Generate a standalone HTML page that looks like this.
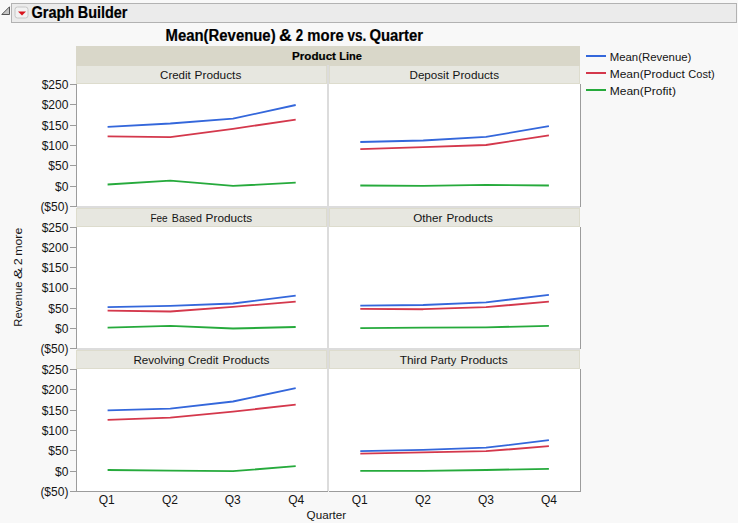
<!DOCTYPE html>
<html><head><meta charset="utf-8"><title>Graph Builder</title>
<style>
html,body{margin:0;padding:0;background:#f8f8f8;}
body{width:738px;height:523px;overflow:hidden;font-family:"Liberation Sans",sans-serif;}
svg{display:block;position:absolute;left:0;top:0;}
text{font-family:"Liberation Sans",sans-serif;fill:#141414;}
.r{shape-rendering:crispEdges;}
.t{font-size:12px;}
.k{letter-spacing:0px;}
.b{font-weight:bold;fill:#000;stroke:#000;stroke-width:0.2px;}
.ln{fill:none;stroke-width:1.85;stroke-linejoin:round;stroke-linecap:butt;}
</style></head><body>
<svg width="738" height="523" viewBox="0 0 738 523">
<rect class="r" x="0" y="0" width="738" height="523" fill="#f8f8f8"/>
<rect class="r" x="11.5" y="3.5" width="725" height="19" fill="#ebebeb" stroke="#b2b2b2" stroke-width="1"/>
<path d="M1.8 14.5 L9.5 14.5 L9.5 6.8 Z" fill="#c4c4c4" stroke="#555555" stroke-width="1" stroke-linejoin="miter"/>
<rect x="15" y="7" width="13" height="11" rx="2.5" ry="2.5" fill="#f1f1f1" stroke="#c6c6c6" stroke-width="1"/>
<path d="M18 11.4 L26 11.4 L22 15.6 Z" fill="#d8131c"/>
<rect class="r" x="76" y="46" width="504" height="20" fill="#d9d7c9"/>
<rect class="r" x="76" y="65" width="251" height="19" fill="#dddccd"/>
<rect class="r" x="77" y="66" width="249" height="17" fill="#e7e7e0"/>
<rect class="r" x="329" y="65" width="251" height="19" fill="#dddccd"/>
<rect class="r" x="330" y="66" width="249" height="17" fill="#e7e7e0"/>
<rect class="r" x="76" y="65" width="504" height="1" fill="#d9d7c9"/>
<rect class="r" x="76" y="208" width="251" height="19" fill="#dddccd"/>
<rect class="r" x="77" y="209" width="249" height="17" fill="#e7e7e0"/>
<rect class="r" x="329" y="208" width="251" height="19" fill="#dddccd"/>
<rect class="r" x="330" y="209" width="249" height="17" fill="#e7e7e0"/>
<rect class="r" x="76" y="350" width="251" height="19" fill="#dddccd"/>
<rect class="r" x="77" y="351" width="249" height="17" fill="#e7e7e0"/>
<rect class="r" x="329" y="350" width="251" height="19" fill="#dddccd"/>
<rect class="r" x="330" y="351" width="249" height="17" fill="#e7e7e0"/>
<rect class="r" x="77" y="84" width="503" height="122" fill="#ffffff"/>
<rect class="r" x="77" y="227" width="503" height="121" fill="#ffffff"/>
<rect class="r" x="77" y="369" width="503" height="122" fill="#ffffff"/>
<rect class="r" x="327" y="65" width="2" height="426" fill="#dcdcdc"/>
<rect class="r" x="77" y="206" width="503" height="2" fill="#dcdcdc"/>
<rect class="r" x="77" y="348" width="503" height="2" fill="#dcdcdc"/>
<rect class="r" x="76" y="84" width="1" height="123" fill="#9c9c9c"/>
<rect class="r" x="76" y="227" width="1" height="122" fill="#9c9c9c"/>
<rect class="r" x="76" y="369" width="1" height="123" fill="#9c9c9c"/>
<rect class="r" x="580" y="84" width="1" height="123" fill="#9c9c9c"/>
<rect class="r" x="580" y="227" width="1" height="122" fill="#9c9c9c"/>
<rect class="r" x="580" y="369" width="1" height="123" fill="#9c9c9c"/>
<rect class="r" x="76" y="491" width="505" height="1" fill="#9c9c9c"/>
<rect class="r" x="328" y="491" width="1" height="1" fill="#f2f2f2"/>
<rect class="r" x="70" y="84" width="6" height="1" fill="#9c9c9c"/>
<text class="t k" x="68.4" y="88.9" text-anchor="end">$250</text>
<rect class="r" x="70" y="104" width="6" height="1" fill="#9c9c9c"/>
<text class="t k" x="68.4" y="109.2" text-anchor="end">$200</text>
<rect class="r" x="70" y="125" width="6" height="1" fill="#9c9c9c"/>
<text class="t k" x="68.4" y="129.6" text-anchor="end">$150</text>
<rect class="r" x="70" y="145" width="6" height="1" fill="#9c9c9c"/>
<text class="t k" x="68.4" y="149.9" text-anchor="end">$100</text>
<rect class="r" x="70" y="165" width="6" height="1" fill="#9c9c9c"/>
<text class="t k" x="68.4" y="170.2" text-anchor="end">$50</text>
<rect class="r" x="70" y="186" width="6" height="1" fill="#9c9c9c"/>
<text class="t k" x="68.4" y="190.6" text-anchor="end">$0</text>
<rect class="r" x="70" y="206" width="6" height="1" fill="#9c9c9c"/>
<text class="t k" x="68.4" y="210.9" text-anchor="end">($50)</text>
<rect class="r" x="70" y="227" width="6" height="1" fill="#9c9c9c"/>
<text class="t k" x="68.4" y="231.9" text-anchor="end">$250</text>
<rect class="r" x="70" y="247" width="6" height="1" fill="#9c9c9c"/>
<text class="t k" x="68.4" y="252.1" text-anchor="end">$200</text>
<rect class="r" x="70" y="267" width="6" height="1" fill="#9c9c9c"/>
<text class="t k" x="68.4" y="272.2" text-anchor="end">$150</text>
<rect class="r" x="70" y="288" width="6" height="1" fill="#9c9c9c"/>
<text class="t k" x="68.4" y="292.4" text-anchor="end">$100</text>
<rect class="r" x="70" y="308" width="6" height="1" fill="#9c9c9c"/>
<text class="t k" x="68.4" y="312.6" text-anchor="end">$50</text>
<rect class="r" x="70" y="328" width="6" height="1" fill="#9c9c9c"/>
<text class="t k" x="68.4" y="332.7" text-anchor="end">$0</text>
<rect class="r" x="70" y="348" width="6" height="1" fill="#9c9c9c"/>
<text class="t k" x="68.4" y="352.9" text-anchor="end">($50)</text>
<rect class="r" x="70" y="369" width="6" height="1" fill="#9c9c9c"/>
<text class="t k" x="68.4" y="373.9" text-anchor="end">$250</text>
<rect class="r" x="70" y="389" width="6" height="1" fill="#9c9c9c"/>
<text class="t k" x="68.4" y="394.2" text-anchor="end">$200</text>
<rect class="r" x="70" y="410" width="6" height="1" fill="#9c9c9c"/>
<text class="t k" x="68.4" y="414.6" text-anchor="end">$150</text>
<rect class="r" x="70" y="430" width="6" height="1" fill="#9c9c9c"/>
<text class="t k" x="68.4" y="434.9" text-anchor="end">$100</text>
<rect class="r" x="70" y="450" width="6" height="1" fill="#9c9c9c"/>
<text class="t k" x="68.4" y="455.2" text-anchor="end">$50</text>
<rect class="r" x="70" y="471" width="6" height="1" fill="#9c9c9c"/>
<text class="t k" x="68.4" y="475.6" text-anchor="end">$0</text>
<rect class="r" x="70" y="491" width="6" height="1" fill="#9c9c9c"/>
<text class="t k" x="68.4" y="495.9" text-anchor="end">($50)</text>
<polyline class="ln" stroke="#26aa3c" points="107.6,184.5 170.3,180.7 233.0,185.9 295.7,182.7"/>
<polyline class="ln" stroke="#d4384c" points="107.6,136.4 170.3,137.2 233.0,128.8 295.7,119.6"/>
<polyline class="ln" stroke="#3467db" points="107.6,126.9 170.3,123.5 233.0,118.7 295.7,105.0"/>
<polyline class="ln" stroke="#26aa3c" points="360.3,185.5 423.2,185.8 486.0,184.9 548.9,185.5"/>
<polyline class="ln" stroke="#d4384c" points="360.3,149.2 423.2,147.1 486.0,145.0 548.9,135.4"/>
<polyline class="ln" stroke="#3467db" points="360.3,142.0 423.2,140.5 486.0,136.9 548.9,126.2"/>
<polyline class="ln" stroke="#26aa3c" points="107.6,327.6 170.3,325.9 233.0,328.5 295.7,327.0"/>
<polyline class="ln" stroke="#d4384c" points="107.6,310.7 170.3,311.5 233.0,306.8 295.7,301.7"/>
<polyline class="ln" stroke="#3467db" points="107.6,307.1 170.3,305.9 233.0,303.5 295.7,295.7"/>
<polyline class="ln" stroke="#26aa3c" points="360.3,328.2 423.2,327.6 486.0,327.3 548.9,325.9"/>
<polyline class="ln" stroke="#d4384c" points="360.3,308.9 423.2,309.2 486.0,307.1 548.9,301.7"/>
<polyline class="ln" stroke="#3467db" points="360.3,305.6 423.2,305.0 486.0,302.3 548.9,294.9"/>
<polyline class="ln" stroke="#26aa3c" points="107.6,470.0 170.3,470.6 233.0,471.2 295.7,466.2"/>
<polyline class="ln" stroke="#d4384c" points="107.6,419.9 170.3,417.6 233.0,411.6 295.7,404.7"/>
<polyline class="ln" stroke="#3467db" points="107.6,410.4 170.3,408.6 233.0,401.5 295.7,388.1"/>
<polyline class="ln" stroke="#26aa3c" points="360.3,470.9 423.2,470.9 486.0,470.0 548.9,468.8"/>
<polyline class="ln" stroke="#d4384c" points="360.3,453.6 423.2,452.4 486.0,451.2 548.9,446.2"/>
<polyline class="ln" stroke="#3467db" points="360.3,451.2 423.2,449.8 486.0,447.7 548.9,440.2"/>
<text class="t" x="106.8" y="504" text-anchor="middle">Q1</text>
<text class="t" x="170.0" y="504" text-anchor="middle">Q2</text>
<text class="t" x="232.8" y="504" text-anchor="middle">Q3</text>
<text class="t" x="296.2" y="504" text-anchor="middle">Q4</text>
<text class="t" x="359.8" y="504" text-anchor="middle">Q1</text>
<text class="t" x="422.9" y="504" text-anchor="middle">Q2</text>
<text class="t" x="485.9" y="504" text-anchor="middle">Q3</text>
<text class="t" x="548.9" y="504" text-anchor="middle">Q4</text>
<g transform="translate(22.3,326.1) rotate(-90)">
<text x="-0.56" y="0.00" font-size="11.8" textLength="45.32" lengthAdjust="spacingAndGlyphs">Revenue</text>
<text x="46.94" y="0.00" font-size="11.8" textLength="11.84" lengthAdjust="spacingAndGlyphs">&amp;</text>
<text x="60.84" y="0.00" font-size="11.8" textLength="6.96" lengthAdjust="spacingAndGlyphs">2</text>
<text x="70.26" y="0.00" font-size="11.8" textLength="28.18" lengthAdjust="spacingAndGlyphs">more</text>
</g>
<text class="b" x="31.42" y="17.60" font-size="15.6" textLength="42.84" lengthAdjust="spacingAndGlyphs">Graph</text>
<text class="b" x="77.72" y="17.60" font-size="15.6" textLength="49.78" lengthAdjust="spacingAndGlyphs">Builder</text>
<text class="b" x="165.56" y="41.00" font-size="15.8" textLength="110.05" lengthAdjust="spacingAndGlyphs">Mean(Revenue)</text>
<text class="b" x="279.06" y="41.00" font-size="15.8" textLength="12.75" lengthAdjust="spacingAndGlyphs">&amp;</text>
<text class="b" x="295.78" y="41.00" font-size="15.8" textLength="7.38" lengthAdjust="spacingAndGlyphs">2</text>
<text class="b" x="307.36" y="41.00" font-size="15.8" textLength="36.32" lengthAdjust="spacingAndGlyphs">more</text>
<text class="b" x="347.49" y="41.00" font-size="15.8" textLength="18.85" lengthAdjust="spacingAndGlyphs">vs.</text>
<text class="b" x="369.41" y="41.00" font-size="15.8" textLength="53.68" lengthAdjust="spacingAndGlyphs">Quarter</text>
<text class="b" x="292.05" y="60.00" font-size="11.6" textLength="43.94" lengthAdjust="spacingAndGlyphs">Product</text>
<text class="b" x="339.29" y="60.00" font-size="11.6" textLength="22.55" lengthAdjust="spacingAndGlyphs">Line</text>
<text x="160.09" y="79.00" font-size="11.8" textLength="30.70" lengthAdjust="spacingAndGlyphs">Credit</text>
<text x="194.60" y="79.00" font-size="11.8" textLength="46.74" lengthAdjust="spacingAndGlyphs">Products</text>
<text x="409.51" y="79.00" font-size="11.8" textLength="39.41" lengthAdjust="spacingAndGlyphs">Deposit</text>
<text x="452.60" y="79.00" font-size="11.8" textLength="46.43" lengthAdjust="spacingAndGlyphs">Products</text>
<text x="150.45" y="222.00" font-size="11.8" textLength="17.23" lengthAdjust="spacingAndGlyphs">Fee</text>
<text x="171.80" y="222.00" font-size="11.8" textLength="30.15" lengthAdjust="spacingAndGlyphs">Based</text>
<text x="205.60" y="222.00" font-size="11.8" textLength="46.54" lengthAdjust="spacingAndGlyphs">Products</text>
<text x="413.21" y="222.00" font-size="11.8" textLength="29.16" lengthAdjust="spacingAndGlyphs">Other</text>
<text x="446.50" y="222.00" font-size="11.8" textLength="46.43" lengthAdjust="spacingAndGlyphs">Products</text>
<text x="133.41" y="364.00" font-size="11.8" textLength="51.09" lengthAdjust="spacingAndGlyphs">Revolving</text>
<text x="188.00" y="364.00" font-size="11.8" textLength="30.39" lengthAdjust="spacingAndGlyphs">Credit</text>
<text x="222.49" y="364.00" font-size="11.8" textLength="46.95" lengthAdjust="spacingAndGlyphs">Products</text>
<text x="399.65" y="364.00" font-size="11.8" textLength="27.23" lengthAdjust="spacingAndGlyphs">Third</text>
<text x="430.47" y="364.00" font-size="11.8" textLength="25.68" lengthAdjust="spacingAndGlyphs">Party</text>
<text x="460.49" y="364.00" font-size="11.8" textLength="47.16" lengthAdjust="spacingAndGlyphs">Products</text>
<text x="306.61" y="519.00" font-size="11.8" textLength="39.54" lengthAdjust="spacingAndGlyphs">Quarter</text>
<text x="609.73" y="60.60" font-size="11.8" textLength="81.66" lengthAdjust="spacingAndGlyphs">Mean(Revenue)</text>
<text x="609.68" y="77.60" font-size="11.8" textLength="75.21" lengthAdjust="spacingAndGlyphs">Mean(Product</text>
<text x="688.32" y="77.60" font-size="11.8" textLength="26.33" lengthAdjust="spacingAndGlyphs">Cost)</text>
<text x="609.68" y="94.60" font-size="11.8" textLength="66.22" lengthAdjust="spacingAndGlyphs">Mean(Profit)</text>
<rect class="r" x="586" y="55" width="20" height="2" fill="#3467db"/>
<rect class="r" x="586" y="72" width="20" height="2" fill="#d4384c"/>
<rect class="r" x="586" y="89" width="20" height="2" fill="#26aa3c"/>
</svg></body></html>
